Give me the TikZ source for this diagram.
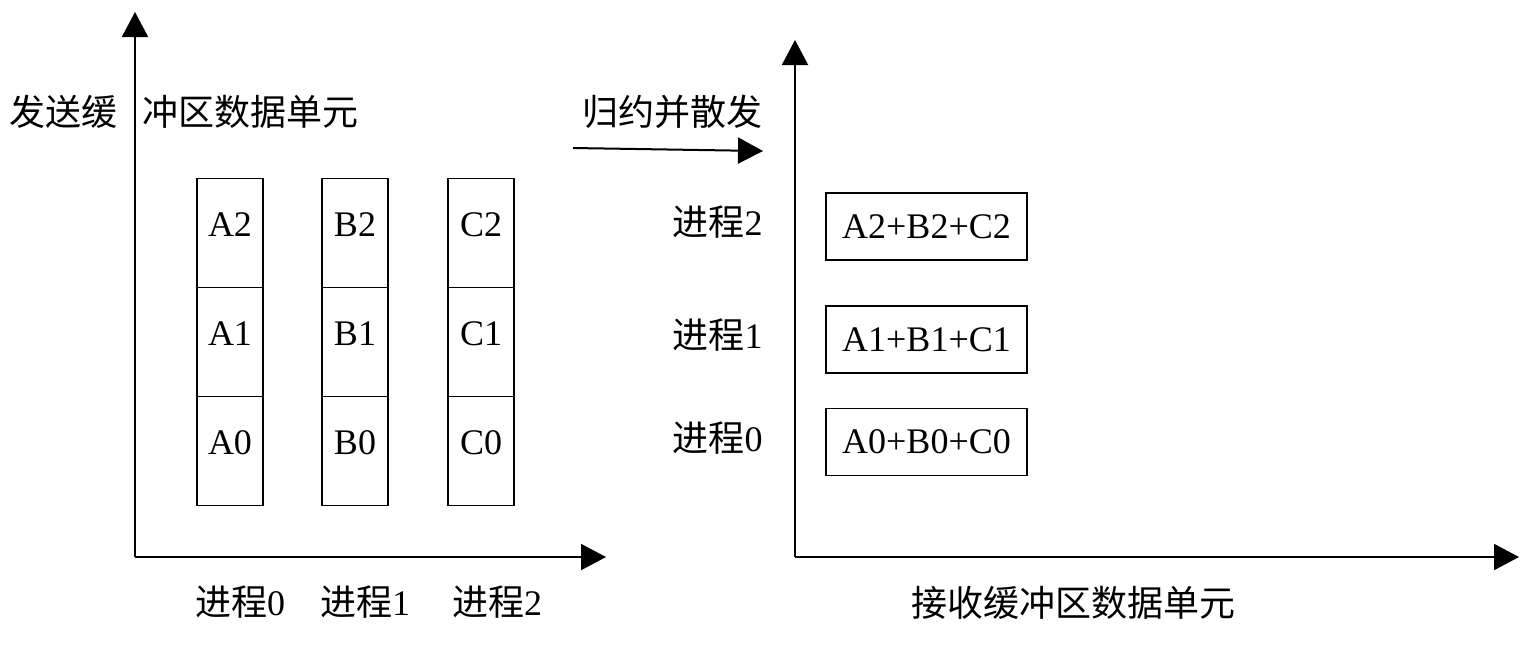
\documentclass[tikz,border=0pt]{standalone}
\usepackage{fontspec}
\setmainfont{Liberation Serif}
\newfontfamily\cjk{Noto Sans CJK SC}
\usetikzlibrary{arrows.meta}

\tikzset{
  axis/.style={line width=1pt, -{Triangle[length=12.5pt,width=13pt]}},
  cell/.style={draw, line width=0.8pt, minimum width=33pt, minimum height=54.5pt, inner sep=0pt},
  sumbox/.style={draw, line width=0.8pt, minimum width=100.5pt, minimum height=33.5pt, inner sep=0pt},
  txt/.style={inner sep=0pt, font=\fontsize{18}{22}\selectfont}
}

\begin{document}
\begin{tikzpicture}[x=0.5pt, y=-0.5pt, every node/.style={txt}]
  \useasboundingbox (0,0) rectangle (1540,650);

  % Axes
  \coordinate (o1) at (135,557);
  \coordinate (y1) at (135,12);
  \coordinate (x1) at (606,557);
  \draw[axis] (o1) -- (y1);
  \draw[axis] (o1) -- (x1);

  \coordinate (o2) at (795,557);
  \coordinate (y2) at (795,40);
  \coordinate (x2) at (1519,557);
  \draw[axis] (o2) -- (y2);
  \draw[axis] (o2) -- (x2);

  % Send buffers
  \foreach \col/\x in {A/230,B/355,C/481}{
    \foreach \r in {0,1,2}{
      \node[cell, label={[txt, yshift=4pt]center:\col\r}] (\col\r) at (\x,{451-109*\r}) {};
    }
  }

  \node[anchor=east] (send1) at (118,112) {\cjk 发送缓};
  \node[anchor=west] (send2) at (142,112) {\cjk 冲区数据单元};

  \node (p0) at (240,602) {{\cjk 进程}0};
  \node (p1) at (365,602) {{\cjk 进程}1};
  \node (p2) at (497,602) {{\cjk 进程}2};

  % Reduce-scatter
  \node (op) at (672,112) {\cjk 归约并散发};
  \coordinate (opa) at (573,148);
  \coordinate (opb) at (763,151);
  \draw[axis] (opa) -- (opb);

  % Receive buffers
  \foreach \r/\y in {2/226.5,1/339.5,0/442}{
    \node[sumbox] (S\r) at (926.5,\y) {A\r+B\r+C\r};
    \node[anchor=east] (q\r) at (763,\y-4) {{\cjk 进程}\r};
  }

  \node (recv) at (1073,603) {\cjk 接收缓冲区数据单元};
\end{tikzpicture}
\end{document}
